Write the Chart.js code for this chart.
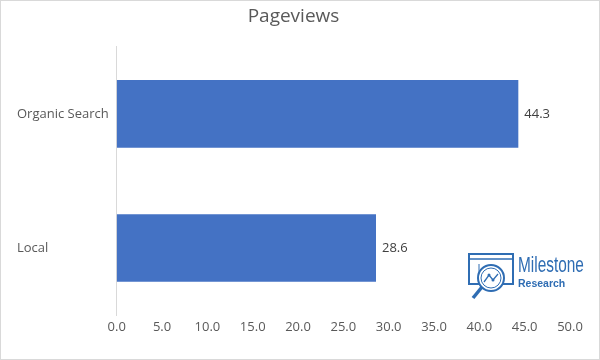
<!DOCTYPE html>
<html>
<head>
  <title>Pageviews</title>
  <script src="https://cdn.jsdelivr.net/npm/chart.js"></script>
  <style>
    body {
      margin: 0;
      background-color: #fff;
    }

    .chart-box {
      position: relative;
      width: 600px;
      height: 360px;
      box-sizing: border-box;
      border: 1px solid #d9d9d9;
      background-color: #fff;
    }

    .logo {
      position: absolute;
      left: 466px;
      top: 251px;
      width: 130px;
      height: 50px;
      font-family: "Liberation Sans", sans-serif;
      color: #2f6db3;
    }

    .logo svg {
      position: absolute;
      left: 0;
      top: 0;
    }

    .logo .name {
      position: absolute;
      left: 51px;
      top: 1px;
      font-size: 22px;
      line-height: 24px;
      transform: scaleX(0.7);
      transform-origin: left top;
      white-space: nowrap;
    }

    .logo .sub {
      position: absolute;
      left: 51px;
      top: 25px;
      font-size: 10.5px;
      font-weight: bold;
    }
  </style>
</head>
<body>
  <div class="chart-box">
    <canvas id="pageviewsChart" width="598" height="358"></canvas>
    <div class="logo">
      <svg width="50" height="50" viewBox="0 0 50 50">
        <rect x="2" y="2" width="44" height="30" fill="none" stroke="#2f6db3" stroke-width="2"/>
        <line x1="2" y1="7" x2="46" y2="7" stroke="#2f6db3" stroke-width="1.5"/>
        <line x1="12" y1="12" x2="12" y2="30" stroke="#2f6db3" stroke-width="1"/>
        <circle cx="24" cy="26" r="13" fill="#fff" stroke="#2f6db3" stroke-width="2"/>
        <circle cx="24" cy="26" r="10" fill="none" stroke="#2f6db3" stroke-width="1"/>
        <polyline points="17,30 22,23 26,28 31,22" fill="none" stroke="#2f6db3" stroke-width="1.3"/>
        <circle cx="22" cy="23" r="1.5" fill="#2f6db3"/>
        <circle cx="26" cy="28" r="1.5" fill="#2f6db3"/>
        <line x1="15" y1="35" x2="6" y2="46" stroke="#2f6db3" stroke-width="3.5"/>
      </svg>
      <div class="name">Milestone</div>
      <div class="sub">Research</div>
    </div>
  </div>

  <script>
    const categories = ['Organic Search', 'Local'];
    const pageviews = [44.3, 28.6];
    const xTicks = [0, 5, 10, 15, 20, 25, 30, 35, 40, 45, 50];

    // writes the value next to the end of each bar
    const barValues = {
      id: 'barValues',
      afterDatasetsDraw(chart) {
        const ctx = chart.ctx;
        ctx.save();
        ctx.font = '13px "Open Sans", sans-serif';
        ctx.fillStyle = '#404040';
        ctx.textAlign = 'left';
        ctx.textBaseline = 'middle';
        chart.getDatasetMeta(0).data.forEach((bar, i) => {
          ctx.fillText(pageviews[i].toFixed(1), bar.x + 6, bar.y);
        });
        ctx.restore();
      }
    };

    const ctx = document.getElementById('pageviewsChart').getContext('2d');

    new Chart(ctx, {
      type: 'bar',
      data: {
        labels: categories,
        datasets: [{
          label: 'Pageviews',
          data: pageviews,
          backgroundColor: '#4472c4',
          barPercentage: 0.504,
          categoryPercentage: 1
        }]
      },
      options: {
        indexAxis: 'y',
        responsive: false,
        animation: false,
        layout: {
          padding: { top: 4, right: 29, bottom: 23, left: 16 }
        },
        scales: {
          x: {
            min: 0,
            max: 50,
            afterBuildTicks: function(axis) {
              axis.ticks = xTicks.map(v => ({ value: v }));
            },
            afterFit: function(axis) {
              axis.height = 21;
            },
            grid: { display: false, drawTicks: false },
            border: { display: false },
            ticks: {
              padding: 4,
              color: '#595959',
              font: { family: '"Open Sans", sans-serif', size: 13 },
              callback: function(value) {
                return value.toFixed(1);
              }
            }
          },
          y: {
            grid: { display: false, drawTicks: false },
            border: { display: true, color: '#d9d9d9', width: 1 },
            ticks: {
              padding: 4,
              crossAlign: 'far',
              color: '#595959',
              font: { family: '"Open Sans", sans-serif', size: 13 }
            }
          }
        },
        plugins: {
          legend: { display: false },
          tooltip: { enabled: false },
          title: {
            display: true,
            text: 'Pageviews',
            color: '#595959',
            font: { family: '"Open Sans", sans-serif', size: 19, weight: 'normal' },
            padding: { top: 0, bottom: 19 }
          }
        }
      },
      plugins: [barValues]
    });
  </script>
</body>
</html>
